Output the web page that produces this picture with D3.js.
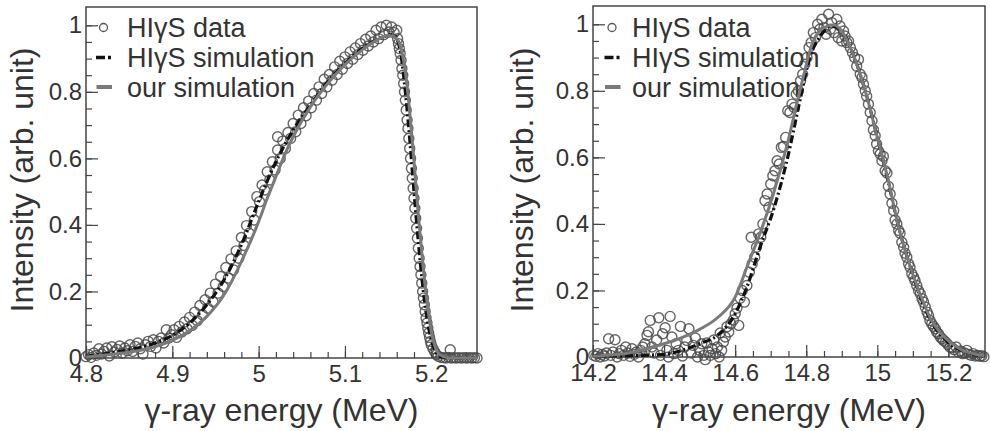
<!DOCTYPE html>
<html>
<head>
<meta charset="utf-8">
<script src="https://cdn.jsdelivr.net/npm/d3@7"></script>
<style>
body { margin: 0; background: #fff; }
svg { display: block; font-family: "Liberation Sans", Arial, Helvetica, sans-serif; }
</style>
</head>
<body>
<svg id="fig" width="990" height="431"></svg>
<script>
// ---- data ----
var legendLabels = ["HI\u03b3S data", "HI\u03b3S simulation", "our simulation"];
var xTitle = "\u03b3-ray energy (MeV)";
var yTitle = "Intensity (arb. unit)";
var yTicks = [0, 0.2, 0.4, 0.6, 0.8, 1];
var leftXTicks = [4.8, 4.9, 5, 5.1, 5.2];
var rightXTicks = [14.2, 14.4, 14.6, 14.8, 15, 15.2];

// left panel: 5 MeV beam
var leftData = [
  [4.800,0.004],[4.803,0.010],[4.806,0.002],[4.809,0.015],[4.812,0.008],[4.815,0.028],[4.818,0.012],[4.821,0.020],
  [4.824,0.030],[4.827,0.006],[4.830,0.034],[4.833,0.018],[4.836,0.026],[4.839,0.036],[4.842,0.015],[4.845,0.030],
  [4.848,0.022],[4.851,0.040],[4.854,0.020],[4.857,0.035],[4.860,0.045],[4.863,0.028],[4.866,0.012],[4.869,0.040],
  [4.872,0.050],[4.875,0.035],[4.878,0.055],[4.881,0.030],[4.884,0.050],[4.887,0.060],[4.890,0.045],[4.893,0.085],
  [4.896,0.060],[4.899,0.070],[4.902,0.085],[4.905,0.062],[4.908,0.095],[4.911,0.078],[4.914,0.108],[4.917,0.088],
  [4.920,0.122],[4.923,0.098],[4.926,0.138],[4.929,0.112],[4.932,0.158],[4.935,0.130],[4.938,0.175],[4.941,0.150],
  [4.944,0.195],[4.947,0.170],[4.950,0.222],[4.953,0.195],[4.956,0.245],[4.959,0.215],[4.962,0.272],[4.965,0.240],
  [4.968,0.298],[4.971,0.265],[4.974,0.322],[4.977,0.300],[4.980,0.362],[4.983,0.338],[4.986,0.398],[4.989,0.375],
  [4.992,0.440],[4.995,0.415],[4.998,0.485],[5.001,0.470],[5.004,0.520],[5.007,0.505],[5.010,0.560],[5.013,0.535],
  [5.016,0.590],[5.019,0.565],[5.022,0.625],[5.022,0.665],[5.025,0.600],[5.028,0.652],[5.031,0.630],[5.034,0.678],
  [5.037,0.660],[5.040,0.705],[5.043,0.680],[5.046,0.730],[5.049,0.705],[5.052,0.752],[5.055,0.728],[5.058,0.772],
  [5.061,0.752],[5.064,0.795],[5.067,0.775],[5.070,0.815],[5.073,0.795],[5.076,0.838],[5.079,0.815],[5.082,0.852],
  [5.085,0.835],[5.088,0.875],[5.091,0.852],[5.094,0.892],[5.097,0.868],[5.100,0.905],[5.103,0.885],[5.106,0.920],
  [5.109,0.898],[5.112,0.932],[5.115,0.912],[5.118,0.945],[5.121,0.925],[5.124,0.958],[5.127,0.938],[5.130,0.968],
  [5.133,0.950],[5.136,0.985],[5.139,0.960],[5.142,0.995],[5.145,0.972],[5.148,1.000],[5.151,0.980],[5.154,0.995],
  [5.157,0.978],[5.160,0.985],[5.161,0.960],[5.162,0.945],[5.163,0.930],[5.164,0.915],[5.165,0.895],[5.166,0.870],
  [5.167,0.850],[5.168,0.825],[5.169,0.800],[5.170,0.775],[5.171,0.745],[5.172,0.715],[5.173,0.690],[5.174,0.660],
  [5.175,0.630],[5.176,0.600],[5.177,0.570],[5.178,0.540],[5.179,0.510],[5.180,0.480],[5.181,0.450],[5.182,0.420],
  [5.183,0.390],[5.184,0.360],[5.185,0.330],[5.186,0.300],[5.187,0.275],[5.188,0.250],[5.189,0.225],[5.190,0.200],
  [5.191,0.180],[5.192,0.160],[5.193,0.140],[5.194,0.120],[5.195,0.105],[5.196,0.090],[5.197,0.075],[5.198,0.062],
  [5.199,0.050],[5.200,0.040],[5.202,0.028],[5.204,0.018],[5.206,0.010],[5.208,0.005],[5.211,0.002],[5.214,0.001],
  [5.217,0.000],[5.220,0.002],[5.222,0.025],[5.223,0.000],[5.226,0.001],[5.229,0.000],[5.232,0.001],[5.235,0.000],
  [5.238,0.001],[5.241,0.000],[5.244,0.001],[5.247,0.000],[5.250,0.001],[5.253,0.000]
];
var leftHigsSim = [
  [4.80,0.005],[4.82,0.012],[4.84,0.020],[4.86,0.030],[4.88,0.045],[4.90,0.068],[4.92,0.105],[4.94,0.160],
  [4.96,0.235],[4.98,0.340],[5.00,0.470],[5.02,0.590],[5.04,0.685],[5.06,0.760],[5.08,0.830],[5.10,0.885],
  [5.12,0.930],[5.14,0.960],[5.15,0.970],[5.155,0.972],[5.16,0.960],[5.165,0.910],[5.17,0.800],[5.175,0.660],
  [5.18,0.500],[5.185,0.350],[5.19,0.220],[5.195,0.120],[5.20,0.055],[5.205,0.020],[5.21,0.005],[5.22,0.000],[5.253,0.000]
];
var leftOurSim = [
  [4.80,0.003],[4.82,0.008],[4.84,0.014],[4.86,0.022],[4.88,0.034],[4.90,0.053],[4.92,0.082],[4.94,0.125],
  [4.96,0.190],[4.98,0.290],[5.00,0.410],[5.01,0.480],[5.02,0.545],[5.03,0.610],[5.04,0.665],[5.06,0.755],
  [5.08,0.825],[5.10,0.882],[5.12,0.926],[5.14,0.960],[5.15,0.970],[5.16,0.960],[5.165,0.930],[5.17,0.860],
  [5.175,0.740],[5.18,0.590],[5.185,0.430],[5.19,0.290],[5.195,0.170],[5.20,0.080],[5.205,0.030],[5.21,0.010],
  [5.22,0.000],[5.253,0.000]
];

// right panel: 15 MeV beam
var rightData = [
  [14.202,0.005],[14.208,0.002],[14.214,0.010],[14.220,0.000],[14.226,0.008],[14.232,0.003],[14.238,0.012],[14.244,0.055],
  [14.250,0.005],[14.256,0.015],[14.262,0.052],[14.268,0.000],[14.274,0.010],[14.280,0.020],[14.286,0.005],[14.292,0.030],
  [14.298,0.012],[14.304,0.002],[14.310,0.025],[14.316,0.008],[14.322,0.015],[14.328,0.000],[14.334,0.020],[14.340,0.030],
  [14.346,0.040],[14.352,0.065],[14.356,0.076],[14.361,0.110],[14.366,0.030],[14.372,0.012],[14.379,0.051],[14.385,0.118],
  [14.390,0.005],[14.396,0.070],[14.403,0.088],[14.408,0.020],[14.412,0.000],[14.417,0.122],[14.422,0.060],[14.428,0.010],
  [14.434,0.040],[14.440,0.020],[14.446,0.092],[14.452,0.003],[14.458,0.030],[14.464,0.050],[14.470,0.085],[14.476,0.012],
  [14.482,0.035],[14.488,0.057],[14.494,0.000],[14.500,0.020],[14.506,0.040],[14.512,0.005],[14.516,-0.008],[14.520,0.042],
  [14.525,0.015],[14.530,0.005],[14.535,0.025],[14.540,0.051],[14.545,0.010],[14.550,0.030],[14.555,0.000],[14.558,0.072],
  [14.562,0.020],[14.567,0.045],[14.572,0.060],[14.577,0.091],[14.582,0.075],[14.588,0.100],[14.595,0.111],[14.600,0.130],
  [14.605,0.147],[14.610,0.095],[14.614,0.177],[14.620,0.200],[14.626,0.165],[14.633,0.215],[14.640,0.255],[14.645,0.360],
  [14.648,0.280],[14.655,0.300],[14.660,0.330],[14.666,0.370],[14.672,0.360],[14.678,0.400],[14.684,0.470],[14.690,0.490],
  [14.695,0.450],[14.700,0.520],[14.706,0.545],[14.712,0.560],[14.718,0.590],[14.724,0.580],[14.730,0.630],[14.736,0.633],
  [14.742,0.660],[14.748,0.740],[14.754,0.735],[14.760,0.760],[14.766,0.750],[14.772,0.790],[14.778,0.800],[14.784,0.830],
  [14.790,0.850],[14.796,0.880],[14.802,0.900],[14.808,0.930],[14.814,0.945],[14.820,0.975],[14.826,0.960],[14.832,1.000],
  [14.838,0.985],[14.844,1.015],[14.850,0.990],[14.856,0.970],[14.863,1.030],[14.868,0.985],[14.872,1.005],[14.878,0.975],
  [14.886,1.015],[14.890,0.960],[14.895,0.995],[14.900,0.950],[14.905,0.980],[14.909,0.965],[14.914,0.945],[14.919,0.950],
  [14.924,0.930],[14.930,0.915],[14.936,0.900],[14.942,0.874],[14.947,0.894],[14.952,0.850],[14.957,0.840],[14.961,0.820],
  [14.966,0.800],[14.970,0.784],[14.975,0.760],[14.980,0.735],[14.985,0.710],[14.989,0.683],[14.994,0.665],[14.998,0.640],
  [15.003,0.620],[15.008,0.610],[15.013,0.590],[15.017,0.603],[15.022,0.560],[15.027,0.553],[15.031,0.513],[15.036,0.490],
  [15.041,0.462],[15.046,0.440],[15.050,0.412],[15.055,0.400],[15.060,0.380],[15.064,0.372],[15.069,0.345],[15.074,0.330],
  [15.078,0.312],[15.083,0.300],[15.088,0.280],[15.092,0.270],[15.097,0.250],[15.102,0.240],[15.106,0.230],[15.111,0.215],
  [15.116,0.200],[15.121,0.190],[15.126,0.175],[15.130,0.165],[15.135,0.150],[15.140,0.135],[15.144,0.125],[15.148,0.110],
  [15.153,0.100],[15.158,0.092],[15.163,0.085],[15.167,0.075],[15.172,0.070],[15.177,0.060],[15.182,0.055],[15.186,0.050],
  [15.192,0.045],[15.198,0.038],[15.204,0.030],[15.210,0.028],[15.216,0.022],[15.222,0.030],[15.228,0.015],[15.234,0.018],
  [15.240,0.010],[15.246,0.012],[15.252,0.020],[15.258,0.008],[15.264,0.005],[15.270,0.010],[15.276,0.003],[15.282,0.005],
  [15.288,0.002],[15.294,0.004],[15.300,0.001]
];
var rightHigsSim = [
  [14.20,0.003],[14.30,0.004],[14.40,0.008],[14.45,0.020],[14.50,0.040],[14.55,0.065],[14.60,0.130],[14.633,0.210],
  [14.67,0.330],[14.71,0.450],[14.75,0.610],[14.78,0.760],[14.81,0.900],[14.84,0.965],[14.87,0.995],[14.90,0.980],
  [14.93,0.915],[14.97,0.785],[15.00,0.660],[15.03,0.530],[15.06,0.390],[15.09,0.280],[15.12,0.185],[15.15,0.110],
  [15.18,0.065],[15.21,0.035],[15.24,0.018],[15.27,0.008],[15.30,0.003]
];
var rightOurSim = [
  [14.20,0.002],[14.25,0.006],[14.30,0.012],[14.35,0.025],[14.40,0.040],[14.45,0.058],[14.50,0.083],[14.55,0.118],
  [14.60,0.180],[14.633,0.270],[14.67,0.372],[14.708,0.492],[14.745,0.633],[14.783,0.804],[14.82,0.950],[14.85,0.990],
  [14.877,0.998],[14.90,0.980],[14.93,0.915],[14.97,0.785],[15.00,0.660],[15.03,0.535],[15.06,0.390],[15.09,0.280],
  [15.12,0.190],[15.15,0.115],[15.18,0.070],[15.21,0.040],[15.24,0.020],[15.27,0.010],[15.30,0.004]
];

// ---- layout ----
var svg = d3.select("#fig");
var yDomain = [0, 1.055];
var ink = "#333";

var panels = [
  {xDomain: [4.8, 5.253], xTicks: leftXTicks, minorStep: 0.02, left: 86, right: 477, top: 7, bottom: 358,
   data: leftData, higs: leftHigsSim, ours: leftOurSim, legMark: 103.5, legText: 127, yTitleX: 33},
  {xDomain: [14.2, 15.303], xTicks: rightXTicks, minorStep: 0.05, left: 593, right: 985, top: 6, bottom: 357,
   data: rightData, higs: rightHigsSim, ours: rightOurSim, legMark: 612, legText: 632, yTitleX: 533}
];

panels.forEach(drawPanel);

function drawPanel(p) {
  var g = svg.append("g");
  var x = d3.scaleLinear().domain(p.xDomain).range([p.left, p.right]);
  var y = d3.scaleLinear().domain(yDomain).range([p.bottom, p.top]);

  var xMinor = d3.range(Math.round(p.xDomain[0] / p.minorStep), Math.floor(p.xDomain[1] / p.minorStep) + 1)
      .map(i => +(i * p.minorStep).toFixed(3));
  var yMinor = d3.range(0, 21).map(i => +(i * 0.05).toFixed(2));

  // minor ticks (inward)
  g.append("g").attr("transform", "translate(0," + p.bottom + ")")
      .call(d3.axisBottom(x).tickValues(xMinor).tickSizeInner(-6).tickSizeOuter(0).tickFormat(""))
      .call(a => a.select(".domain").remove());
  g.append("g").attr("transform", "translate(" + p.left + ",0)")
      .call(d3.axisLeft(y).tickValues(yMinor).tickSizeInner(-6).tickSizeOuter(0).tickFormat(""))
      .call(a => a.select(".domain").remove());

  // major ticks + labels
  var xa = g.append("g").attr("transform", "translate(0," + p.bottom + ")")
      .call(d3.axisBottom(x).tickValues(p.xTicks).tickSizeInner(-12).tickSizeOuter(0).tickPadding(7)
          .tickFormat(d => String(d)));
  var ya = g.append("g").attr("transform", "translate(" + p.left + ",0)")
      .call(d3.axisLeft(y).tickValues(yTicks).tickSizeInner(-12).tickSizeOuter(0).tickPadding(4)
          .tickFormat(d => String(d)));
  [xa, ya].forEach(a => {
    a.select(".domain").remove();
    a.selectAll("text").attr("font-size", 24).attr("fill", ink).attr("font-family", null);
  });
  g.selectAll(".tick line").attr("stroke", "#444").attr("stroke-width", 1.2);

  // frame
  g.append("rect")
      .attr("x", p.left).attr("y", p.top)
      .attr("width", p.right - p.left).attr("height", p.bottom - p.top)
      .attr("fill", "none").attr("stroke", "#444").attr("stroke-width", 1.5);

  // legend
  var leg = g.append("g");
  var rows = [27.5, 57.5, 87];
  leg.append("circle").attr("cx", p.legMark).attr("cy", rows[0]).attr("r", 4)
      .attr("fill", "none").attr("stroke", "#555").attr("stroke-width", 1.3);
  leg.append("line").attr("x1", p.legMark - 7.5).attr("x2", p.legMark + 8)
      .attr("y1", rows[1]).attr("y2", rows[1])
      .attr("stroke", "#111").attr("stroke-width", 3.5).attr("stroke-dasharray", "9,3,3,20");
  leg.append("line").attr("x1", p.legMark - 7).attr("x2", p.legMark + 8.5)
      .attr("y1", rows[2]).attr("y2", rows[2])
      .attr("stroke", "#7a7a7a").attr("stroke-width", 4);
  leg.selectAll("text").data(legendLabels).enter().append("text")
      .attr("x", p.legText).attr("y", (d, i) => rows[i] + 9.5)
      .attr("font-size", 27).attr("fill", ink)
      .text(d => d);

  // data circles
  g.append("g").selectAll("circle").data(p.data).enter().append("circle")
      .attr("cx", d => x(d[0])).attr("cy", d => y(d[1])).attr("r", 5)
      .attr("fill", "none").attr("stroke", "#4a4a4a").attr("stroke-opacity", 0.85).attr("stroke-width", 1.4);

  // simulations
  var line = d3.line().x(d => x(d[0])).y(d => y(d[1])).curve(d3.curveMonotoneX);
  g.append("path").datum(p.higs).attr("d", line)
      .attr("fill", "none").attr("stroke", "#111").attr("stroke-width", 3.2)
      .attr("stroke-dasharray", "8,3,2,3");
  g.append("path").datum(p.ours).attr("d", line)
      .attr("fill", "none").attr("stroke", "#7a7a7a").attr("stroke-width", 3);

  // axis titles
  g.append("text").attr("x", (p.left + p.right) / 2).attr("y", 421)
      .attr("text-anchor", "middle").attr("font-size", 32).attr("fill", ink)
      .text(xTitle);
  g.append("text").attr("transform", "translate(" + p.yTitleX + ",180) rotate(-90)")
      .attr("text-anchor", "middle").attr("font-size", 32).attr("fill", ink)
      .text(yTitle);
}
</script>
</body>
</html>
